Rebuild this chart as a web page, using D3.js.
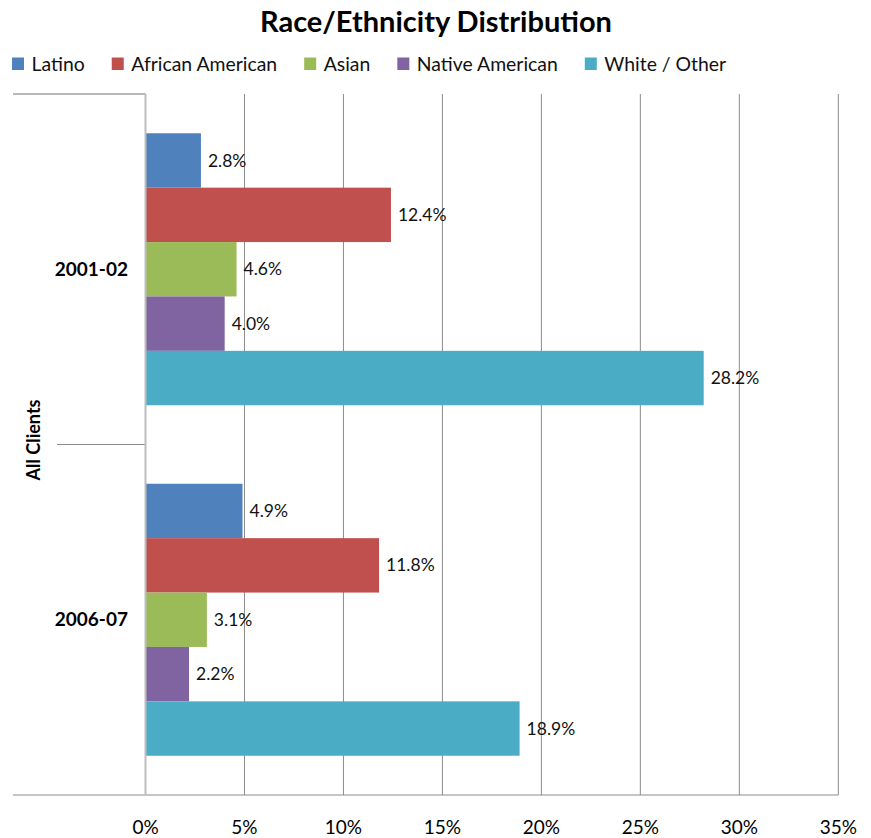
<!DOCTYPE html>
<html>
<head>
<meta charset="utf-8">
<script src="https://cdn.jsdelivr.net/npm/d3@7"></script>
<style>
  body { margin: 0; background: #fff; }
  svg { font-family: Lato, "Open Sans", sans-serif; }
</style>
</head>
<body>
<div id="chart"></div>
<script>
"use strict";

// data
const categories = ["2001-02", "2006-07"];
const series = ["Latino", "African American", "Asian", "Native American", "White / Other"];
const seriesColors = ["#4F81BD", "#C0504D", "#9BBB59", "#8064A2", "#4BACC6"];
const values2001 = [2.8, 12.4, 4.6, 4.0, 28.2];
const values2006 = [4.9, 11.8, 3.1, 2.2, 18.9];
const xTicks = [0, 5, 10, 15, 20, 25, 30, 35];
const groupTitle = "All Clients";
const chartTitle = "Race/Ethnicity Distribution";

const width = 871, height = 838;
const plot = { left: 145.5, right: 838.3, top: 94, bottom: 795 };

let svg = d3.select("#chart").append("svg")
    .attr("width", width)
    .attr("height", height);

// scales
let x = d3.scaleLinear().domain([0, 35]).range([plot.left, plot.right]);
let yGroup = d3.scaleBand().domain(categories)
    .range([plot.top, plot.bottom])
    .paddingInner(0.224).paddingOuter(0.112);
let ySeries = d3.scaleBand().domain(series).range([0, yGroup.bandwidth()]);
let color = d3.scaleOrdinal().domain(series).range(seriesColors);

const rows = categories.map((c, i) => ({
    category: c,
    values: series.map((s, j) => ({ name: s, value: [values2001, values2006][i][j] }))
}));

// gridlines
svg.append("g").selectAll("line")
    .data(xTicks.filter(d => d > 0))
    .enter().append("line")
    .attr("x1", d => x(d)).attr("x2", d => x(d))
    .attr("y1", plot.top).attr("y2", plot.bottom)
    .attr("stroke", "#8c8c8c").attr("stroke-width", 1);

// category frame lines on the left
svg.append("line")
    .attr("x1", 13).attr("x2", plot.left)
    .attr("y1", plot.top).attr("y2", plot.top)
    .attr("stroke", "#a0a0a0").attr("stroke-width", 1.5);
svg.append("line")
    .attr("x1", 57).attr("x2", plot.left)
    .attr("y1", yGroup.step() + plot.top).attr("y2", yGroup.step() + plot.top)
    .attr("stroke", "#8c8c8c").attr("stroke-width", 1);
svg.append("line")
    .attr("x1", 13).attr("x2", plot.right)
    .attr("y1", plot.bottom).attr("y2", plot.bottom)
    .attr("stroke", "#8c8c8c").attr("stroke-width", 1);

// bars
let groups = svg.selectAll("g.group")
    .data(rows)
    .enter().append("g")
    .classed("group", true)
    .attr("transform", d => `translate(0, ${yGroup(d.category)})`);

groups.selectAll("rect")
    .data(d => d.values)
    .enter().append("rect")
    .attr("x", x(0))
    .attr("y", d => ySeries(d.name))
    .attr("width", d => x(d.value) - x(0))
    .attr("height", ySeries.bandwidth())
    .attr("fill", d => color(d.name));

groups.selectAll("text.value")
    .data(d => d.values)
    .enter().append("text")
    .classed("value", true)
    .attr("x", d => x(d.value) + 7)
    .attr("y", d => ySeries(d.name) + ySeries.bandwidth() / 2)
    .attr("dy", "0.35em")
    .attr("font-size", 17.5)
    .attr("fill", "#111")
    .text(d => d.value.toFixed(1) + "%");

// value axis line at 0
svg.append("line")
    .attr("x1", x(0)).attr("x2", x(0))
    .attr("y1", plot.top).attr("y2", plot.bottom)
    .attr("stroke", "#bdbdbd").attr("stroke-width", 2);

// category labels
svg.append("g").selectAll("text")
    .data(categories)
    .enter().append("text")
    .attr("x", 128)
    .attr("y", d => yGroup(d) + yGroup.bandwidth() / 2)
    .attr("dy", "0.35em")
    .attr("text-anchor", "end")
    .attr("font-weight", "bold")
    .attr("font-size", 19)
    .text(d => d);

svg.append("text")
    .attr("transform", `translate(40, 440) rotate(-90)`)
    .attr("text-anchor", "middle")
    .attr("font-weight", "bold")
    .attr("font-size", 18)
    .text(groupTitle);

// x tick labels
svg.append("g").selectAll("text")
    .data(xTicks)
    .enter().append("text")
    .attr("x", d => x(d))
    .attr("y", 834)
    .attr("text-anchor", "middle")
    .attr("font-size", 19)
    .text(d => d + "%");

// title
svg.append("text")
    .attr("x", 436).attr("y", 32)
    .attr("text-anchor", "middle")
    .attr("font-weight", "bold")
    .attr("font-size", 29)
    .text(chartTitle);

// legend
let legend = svg.append("g");
let lx = 12;
series.forEach(s => {
    legend.append("rect")
        .attr("x", lx).attr("y", 57.5)
        .attr("width", 12).attr("height", 12.5)
        .attr("fill", color(s));
    let t = legend.append("text")
        .attr("x", lx + 19.5).attr("y", 70.5)
        .attr("font-size", 19.4)
        .attr("fill", "#111")
        .text(s);
    lx += 19.5 + t.node().getComputedTextLength() + 27;
});
</script>
</body>
</html>
